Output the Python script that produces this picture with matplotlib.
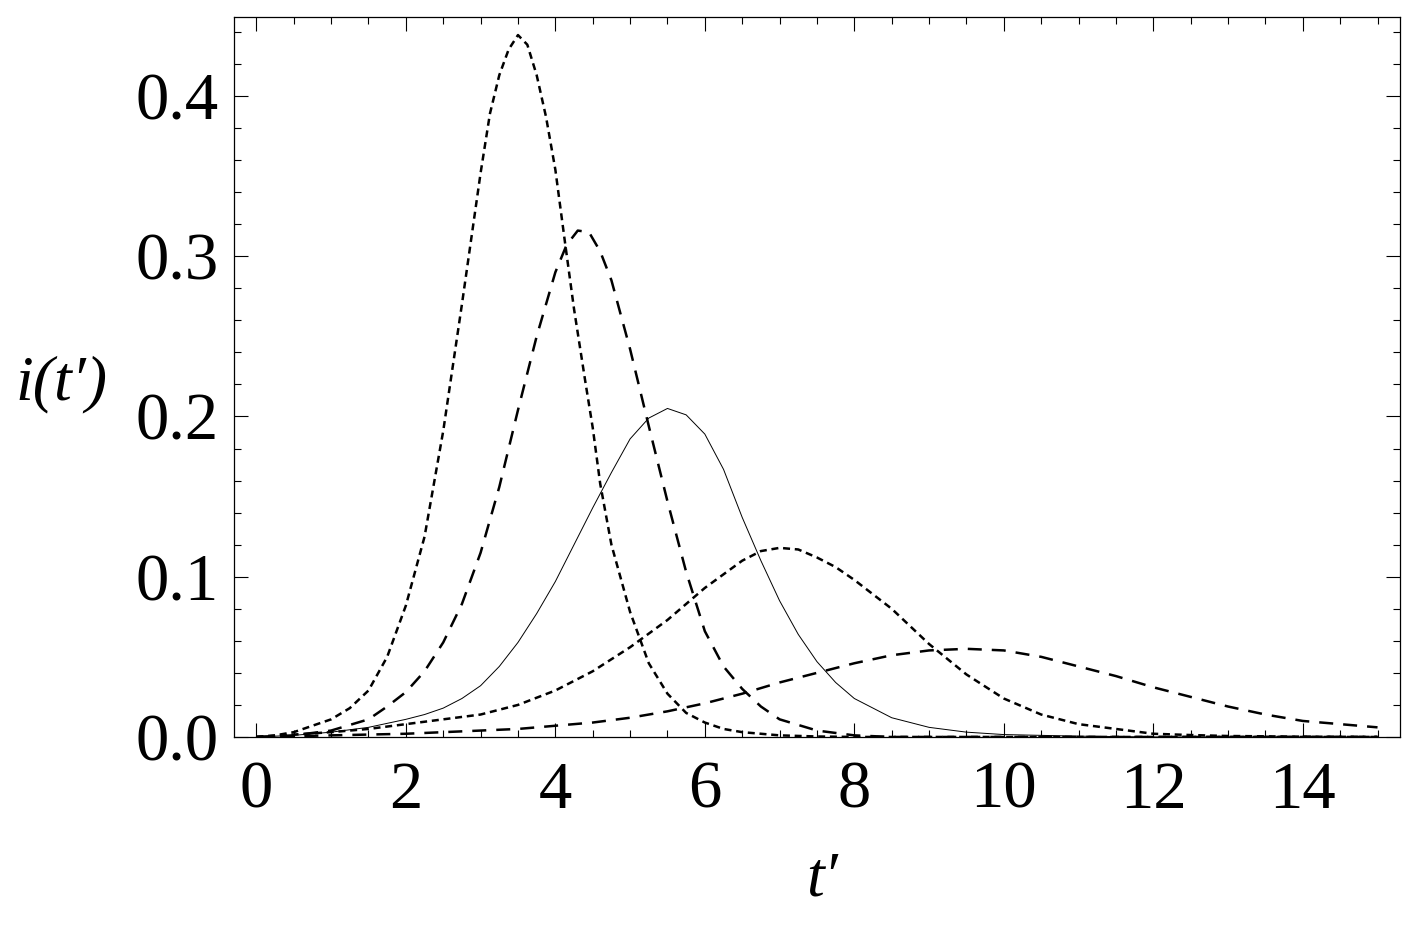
import numpy as np
import matplotlib.pyplot as plt
from matplotlib.ticker import MultipleLocator

# curve 1: short dashes, tallest peak
t1 = [0, 0.25, 0.5, 0.75, 1.0, 1.25, 1.5, 1.75, 2.0, 2.25, 2.5, 2.75, 3.0, 3.125, 3.25, 3.375, 3.5,
      3.625, 3.75, 3.875, 4.0, 4.125, 4.25, 4.4, 4.5, 4.6, 4.75, 5.0, 5.25, 5.5, 5.75, 6.0, 6.25,
      6.5, 7.0, 7.5, 8.0, 15.0]
i1 = [0, 0.001, 0.003, 0.007, 0.011, 0.018, 0.029, 0.050, 0.082, 0.125, 0.191, 0.270, 0.352, 0.389, 0.413, 0.429, 0.438,
      0.432, 0.413, 0.387, 0.354, 0.310, 0.267, 0.222, 0.193, 0.158, 0.120, 0.078, 0.046, 0.027, 0.015, 0.009, 0.005,
      0.003, 0.001, 0.0003, 0.0, 0.0]

# curve 2: long dashes
t2 = [0, 0.5, 1.0, 1.5, 1.75, 2.0, 2.25, 2.5, 2.75, 3.0, 3.25, 3.5, 3.75, 4.0, 4.15, 4.3, 4.45,
      4.6, 4.75, 5.0, 5.25, 5.5, 5.75, 6.0, 6.25, 6.5, 6.75, 7.0, 7.5, 8.0, 8.5, 15.0]
i2 = [0, 0.001, 0.004, 0.011, 0.019, 0.028, 0.041, 0.059, 0.083, 0.115, 0.156, 0.204, 0.250, 0.290, 0.307, 0.316, 0.315,
      0.303, 0.285, 0.242, 0.194, 0.147, 0.103, 0.066, 0.044, 0.030, 0.019, 0.011, 0.004, 0.001, 0.0, 0.0]

# curve 3: thin solid
t3 = [0, 0.5, 1.0, 1.5, 2.0, 2.25, 2.5, 2.75, 3.0, 3.25, 3.5, 3.75, 4.0, 4.25, 4.5, 4.75, 5.0, 5.25, 5.5,
      5.75, 6.0, 6.25, 6.5, 6.75, 7.0, 7.25, 7.5, 7.75, 8.0, 8.5, 9.0, 9.5, 10.0, 11.0, 12.0, 15.0]
i3 = [0, 0.001, 0.003, 0.006, 0.011, 0.014, 0.018, 0.024, 0.032, 0.044, 0.059, 0.077, 0.097, 0.120, 0.143, 0.165, 0.186, 0.199, 0.205,
      0.201, 0.189, 0.167, 0.137, 0.110, 0.085, 0.064, 0.047, 0.034, 0.024, 0.012, 0.006, 0.003, 0.0015, 0.0005, 0.0, 0.0]

# curve 4: short dashes
t4 = [0, 1.0, 1.5, 2.0, 2.5, 3.0, 3.5, 4.0, 4.5, 5.0, 5.5, 6.0, 6.5, 6.75, 7.0, 7.25, 7.5, 7.75, 8.0,
      8.5, 9.0, 9.5, 10.0, 10.5, 11.0, 11.5, 12.0, 12.5, 13.0, 14.0, 15.0]
i4 = [0, 0.003, 0.005, 0.008, 0.011, 0.014, 0.020, 0.029, 0.041, 0.056, 0.073, 0.093, 0.110, 0.116, 0.118, 0.117, 0.112, 0.106, 0.098,
      0.080, 0.058, 0.039, 0.024, 0.014, 0.008, 0.005, 0.002, 0.0012, 0.0006, 0.0002, 0.0]

# curve 5: long dashes, flattest
t5 = [0, 1.0, 2.0, 3.0, 3.5, 4.0, 4.5, 5.0, 5.5, 6.0, 6.5, 7.0, 7.5, 8.0, 8.5, 9.0, 9.5,
      10.0, 10.5, 11.0, 11.5, 12.0, 12.5, 13.0, 13.5, 14.0, 14.5, 15.0]
i5 = [0, 0.001, 0.002, 0.004, 0.005, 0.007, 0.009, 0.012, 0.016, 0.021, 0.027, 0.034, 0.040, 0.046, 0.051, 0.054, 0.055,
      0.054, 0.050, 0.044, 0.038, 0.031, 0.025, 0.019, 0.014, 0.010, 0.008, 0.006]

plt.rcParams['font.family'] = ['Liberation Serif', 'DejaVu Serif']

fig = plt.figure(figsize=(14.06, 9.27), dpi=100)
ax = fig.add_axes([0.1664, 0.2050, 0.9957 - 0.1664, 0.9817 - 0.2050])

short = (0, (2.8, 1.9))
long_ = (0, (5.6, 4.0))
ax.plot(t1, i1, color='black', lw=1.8, linestyle=short)
ax.plot(t2, i2, color='black', lw=1.8, linestyle=long_)
ax.plot(t3, i3, color='black', lw=0.7)
ax.plot(t4, i4, color='black', lw=1.8, linestyle=short)
ax.plot(t5, i5, color='black', lw=1.8, linestyle=long_)

ax.set_xlim(-0.3, 15.3)
ax.set_ylim(0, 0.4493)
ax.xaxis.set_major_locator(MultipleLocator(2))
ax.xaxis.set_minor_locator(MultipleLocator(0.5))
ax.yaxis.set_major_locator(MultipleLocator(0.1))
ax.yaxis.set_minor_locator(MultipleLocator(0.02))
ax.yaxis.set_major_formatter(plt.FormatStrFormatter('%.1f'))
ax.tick_params(which='both', direction='in', top=True, right=True, width=0.8, labelsize=48)
ax.tick_params(which='major', length=10)
ax.tick_params(which='minor', length=5)
ax.tick_params(axis='y', pad=11)
ax.tick_params(axis='x', pad=17)
for s in ax.spines.values():
    s.set_linewidth(0.9)

fig.text(0.044, 0.585, 'i(t\u2032)', fontsize=46, style='italic', ha='center', va='center')
fig.text(0.585, 0.05, 't\u2032', fontsize=46, style='italic', ha='center', va='center')

fig.savefig('out.png', dpi=100)
